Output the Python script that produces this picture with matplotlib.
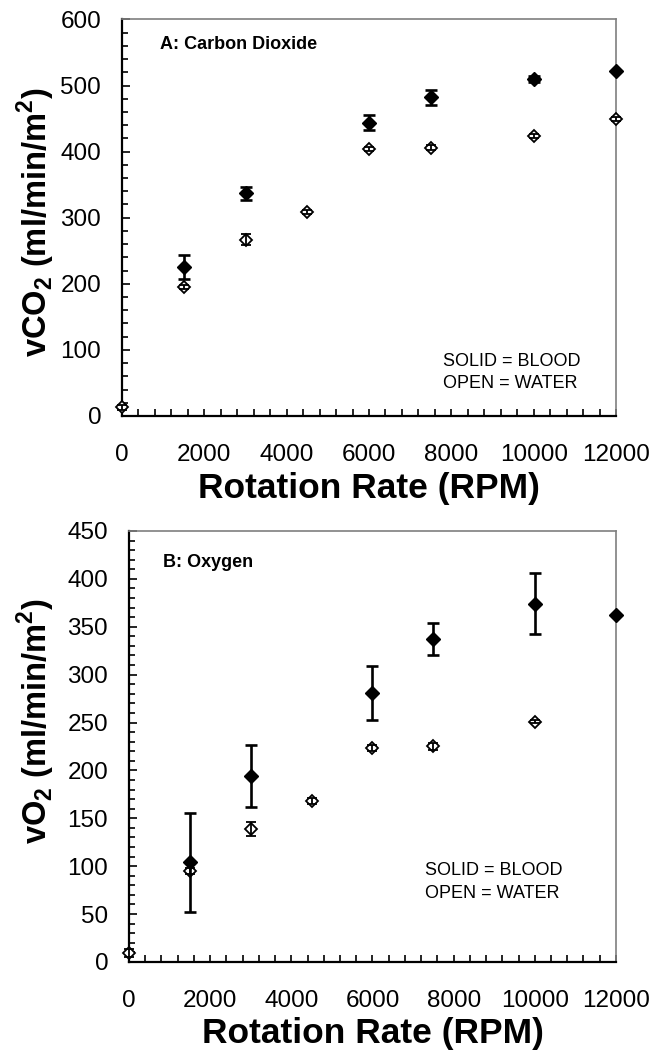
import matplotlib
matplotlib.use("Agg")
import matplotlib.pyplot as plt
from matplotlib.ticker import MultipleLocator

plt.rcParams['font.family'] = ['Liberation Sans', 'DejaVu Sans']
plt.rcParams['mathtext.fontset'] = 'custom'
plt.rcParams['mathtext.rm'] = 'Liberation Sans'
plt.rcParams['mathtext.bf'] = 'Liberation Sans:bold'

# carbon dioxide panel
co2_blood_rpm = [1500, 3000, 6000, 7500, 10000, 12000]
co2_blood = [226, 337, 444, 482, 510, 522]
co2_blood_err = [18, 10, 12, 11, 5, 0]
co2_water_rpm = [0, 1500, 3000, 4500, 6000, 7500, 10000, 12000]
co2_water = [13, 195, 267, 308, 404, 406, 423, 449]
co2_water_err = [4, 3, 8, 3, 3, 4, 3, 3]

# oxygen panel
o2_blood_rpm = [1500, 3000, 6000, 7500, 10000, 12000]
o2_blood = [104, 194, 281, 337, 374, 362]
o2_blood_err = [52, 32, 28, 17, 32, 0]
o2_water_rpm = [0, 1500, 3000, 4500, 6000, 7500, 10000]
o2_water = [9, 95, 139, 168, 223, 225, 251]
o2_water_err = [4, 3, 7, 3, 3, 4, 2]

x_ticks = [0, 2000, 4000, 6000, 8000, 10000, 12000]


def panel(ax, title, ylabel, ymax, ymajor, yminor,
          brpm, b, berr, wrpm, w, werr, note_xy, label_xy):
    # open markers, with their small error bars drawn on top
    ax.plot(wrpm, w, 'D', ms=6, mfc='white', mec='black', mew=1.3,
            clip_on=False, zorder=3)
    ax.errorbar(wrpm, w, yerr=werr, fmt='none', ecolor='black',
                elinewidth=1.3, capsize=3.5, capthick=1.3,
                clip_on=False, zorder=4)
    ax.errorbar(brpm, b, yerr=berr, fmt='D', ms=7, mfc='black', mec='black',
                ecolor='black', elinewidth=1.9, capsize=4, capthick=1.9,
                clip_on=False, zorder=5)
    ax.set_xlim(0, 12000)
    ax.set_ylim(0, ymax)
    ax.set_xticks(x_ticks)
    ax.xaxis.set_minor_locator(MultipleLocator(400))
    ax.yaxis.set_major_locator(MultipleLocator(ymajor))
    ax.yaxis.set_minor_locator(MultipleLocator(yminor))
    ax.tick_params(which='both', direction='in', top=False, right=False,
                   width=1.2, color='black', labelsize=17.5)
    ax.tick_params(axis='x', which='both', length=5, pad=20)
    ax.tick_params(axis='y', which='major', length=6, pad=15)
    ax.tick_params(axis='y', which='minor', length=4.5)
    for s in ['left', 'bottom']:
        ax.spines[s].set_linewidth(1.6)
        ax.spines[s].set_color('black')
    for s in ['top', 'right']:
        ax.spines[s].set_linewidth(1.2)
        ax.spines[s].set_color('#7f7f7f')
    ax.text(note_xy[0], note_xy[1], title, transform=ax.transAxes,
            fontsize=13, fontweight='bold', va='center')
    ax.text(note_xy[2], note_xy[3], 'SOLID = BLOOD\nOPEN = WATER',
            transform=ax.transAxes, fontsize=13, va='bottom', linespacing=1.4)
    ax.set_ylabel(ylabel, fontsize=23.5, fontweight='bold')
    ax.yaxis.set_label_coords(*label_xy)
    ax.set_xlabel('Rotation Rate (RPM)', fontsize=25.5, fontweight='bold',
                  va='top')


fig = plt.figure(figsize=(6.55, 10.52), dpi=100)
ax1 = fig.add_axes([0.1863, 0.6046, 0.7542, 0.3769])
ax2 = fig.add_axes([0.1969, 0.0856, 0.7435, 0.4097])

panel(ax1, 'A: Carbon Dioxide', r'vCO$_\mathbf{2}$ (ml/min/m$^\mathbf{2}$)',
      600, 100, 20, co2_blood_rpm, co2_blood, co2_blood_err,
      co2_water_rpm, co2_water, co2_water_err, (0.077, 0.936, 0.65, 0.06),
      (-0.132, 0.489))
ax1.xaxis.set_label_coords(0.5, -0.142)

panel(ax2, 'B: Oxygen', r'vO$_\mathbf{2}$ (ml/min/m$^\mathbf{2}$)',
      450, 50, 10, o2_blood_rpm, o2_blood, o2_blood_err,
      o2_water_rpm, o2_water, o2_water_err, (0.07, 0.926, 0.607, 0.14),
      (-0.148, 0.559))
ax2.xaxis.set_label_coords(0.5, -0.127)

fig.savefig('out.png', dpi=100)
